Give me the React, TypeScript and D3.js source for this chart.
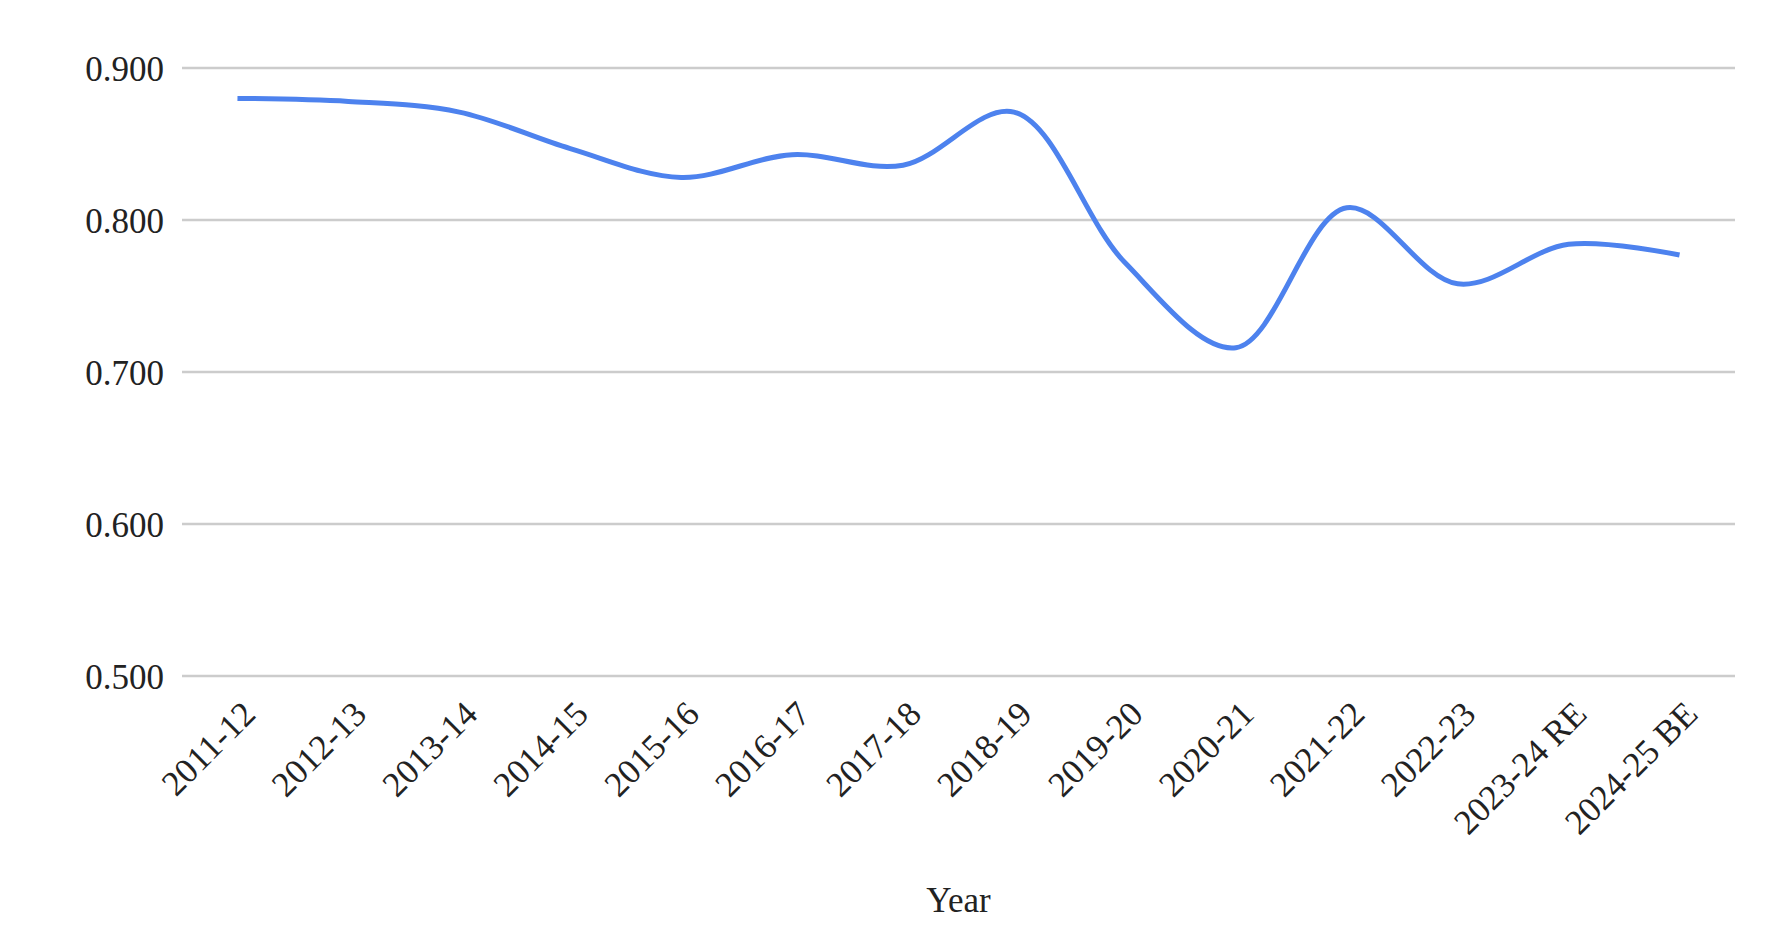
import React, { useEffect, useRef } from "react";
import * as d3 from "d3";

const categories: string[] = [
  "2011-12", "2012-13", "2013-14", "2014-15", "2015-16", "2016-17", "2017-18",
  "2018-19", "2019-20", "2020-21", "2021-22", "2022-23", "2023-24 RE", "2024-25 BE",
];
const values: number[] = [
  0.880, 0.878, 0.871, 0.847, 0.828, 0.843, 0.836,
  0.871, 0.772, 0.716, 0.808, 0.758, 0.784, 0.777,
];
const yTicks: number[] = [0.5, 0.6, 0.7, 0.8, 0.9];
const xTitle = "Year";

const W = 1772;
const H = 952;
const FONT = "'Liberation Serif', 'Times New Roman', serif";
const FS = 35;

export default function App() {
  const ref = useRef<SVGSVGElement | null>(null);

  useEffect(() => {
    const svg = d3.select(ref.current);
    svg.selectAll("*").remove();

    const left = 182, right = 1735, top = 68, bottom = 676;

    const x = d3.scalePoint<string>().domain(categories).range([left, right]).padding(0.5);
    const y = d3.scaleLinear().domain([0.5, 0.9]).range([bottom, top]);

    // gridlines
    svg.append("g")
      .selectAll("line")
      .data(yTicks)
      .join("line")
      .attr("x1", left)
      .attr("x2", right)
      .attr("y1", (d) => y(d))
      .attr("y2", (d) => y(d))
      .attr("stroke", "#cccccc")
      .attr("stroke-width", 2.5);

    // y labels
    svg.append("g")
      .selectAll("text")
      .data(yTicks)
      .join("text")
      .attr("x", 164)
      .attr("y", (d) => y(d) + 13)
      .attr("text-anchor", "end")
      .attr("font-family", FONT)
      .attr("font-size", FS)
      .attr("fill", "#222")
      .text((d) => d3.format(".3f")(d));

    // x labels
    svg.append("g")
      .selectAll("text")
      .data(categories)
      .join("text")
      .attr("text-anchor", "end")
      .attr("transform", (d) => `translate(${(x(d) as number) + 20},716) rotate(-45)`)
      .attr("font-family", FONT)
      .attr("font-size", FS)
      .attr("fill", "#222")
      .text((d) => d);

    // x title
    svg.append("text")
      .attr("x", (left + right) / 2)
      .attr("y", 912)
      .attr("text-anchor", "middle")
      .attr("font-family", FONT)
      .attr("font-size", FS)
      .attr("fill", "#222")
      .text(xTitle);

    // line
    const line = d3.line<number>()
      .x((_, i) => x(categories[i]) as number)
      .y((d) => y(d))
      .curve(d3.curveCatmullRom.alpha(0.5));

    svg.append("path")
      .datum(values)
      .attr("d", line)
      .attr("fill", "none")
      .attr("stroke", "#4d82ee")
      .attr("stroke-width", 5)
      .attr("stroke-linejoin", "round");
  }, []);

  return (
    <svg
      ref={ref}
      width={W}
      height={H}
      viewBox={`0 0 ${W} ${H}`}
      style={{ position: "absolute", left: 0, top: 0, background: "#fff", display: "block" }}
    />
  );
}
